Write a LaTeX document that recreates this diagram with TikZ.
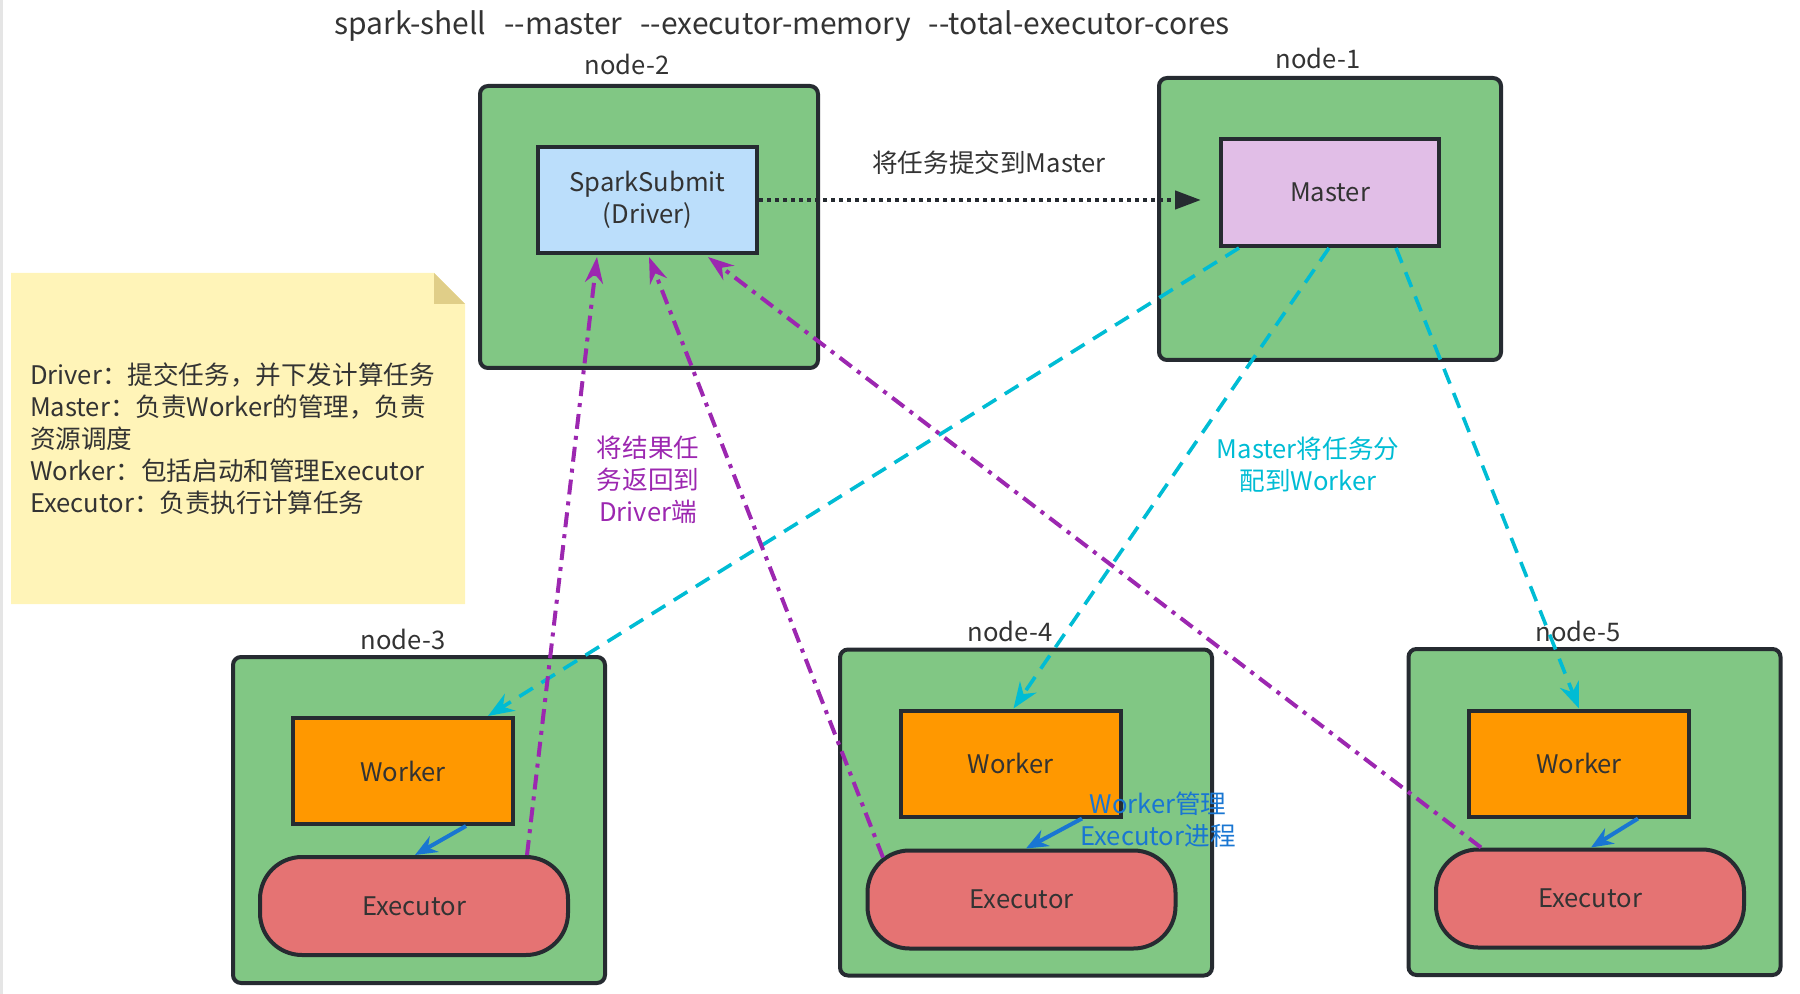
\documentclass[tikz,border=0pt]{standalone}
\usepackage{fontspec}
\setmainfont{Noto Sans CJK SC}
\usetikzlibrary{arrows.meta,calc}

\definecolor{hostgreen}{HTML}{81C784}
\definecolor{edgedark}{HTML}{262B31}
\definecolor{driverblue}{HTML}{BBDEFB}
\definecolor{masterlilac}{HTML}{E1BEE7}
\definecolor{workerorange}{HTML}{FF9800}
\definecolor{execred}{HTML}{E57373}
\definecolor{notefill}{HTML}{FFF4B8}
\definecolor{notefold}{HTML}{E0CE88}
\definecolor{txt}{HTML}{333333}
\definecolor{assigncyan}{HTML}{00BCD4}
\definecolor{resultpurple}{HTML}{9C27B0}
\definecolor{managerblue}{HTML}{1976D2}

\newcommand\dsh{-\kern0pt-}

\begin{document}
\begin{tikzpicture}[x=0.5pt,y=-0.5pt,
			every node/.style={font=\fontsize{12.8pt}{16pt}\selectfont,text=txt,align=center},
			host/.style={draw=edgedark,line width=2pt,fill=hostgreen,rounded corners=4pt,
				minimum width=186pt,minimum height=163pt},
			proc/.style={draw=edgedark,line width=2pt,minimum width=110pt,minimum height=53pt},
			executor/.style={draw=edgedark,line width=2pt,fill=execred,rounded corners=21pt,
				minimum width=154pt,minimum height=49pt},
			submit/.style={draw=edgedark,line width=2.2pt,dash pattern=on 2pt off 2pt,
				-{Triangle[length=13pt,width=9pt]}},
			assign/.style={draw=assigncyan,line width=1.8pt,dash pattern=on 8pt off 5pt,
				-{Stealth[length=13pt,width=10pt]}},
			result/.style={draw=resultpurple,line width=2pt,
				dash pattern=on 7.5pt off 3.5pt on 2pt off 3.5pt,
				-{Stealth[length=13pt,width=9pt]}},
			manage/.style={draw=managerblue,line width=2pt,-{Stealth[length=11pt,width=9pt]}}]

		\useasboundingbox (0,0) rectangle (1800,994);
		\fill[black!10] (0,0) rectangle (2.5,994);

		\node (title) at (782,26) {\fontsize{15pt}{16pt}\selectfont
			spark-shell\hspace{0.6em}\dsh master\hspace{0.6em}\dsh executor-memory\hspace{0.6em}\dsh total-executor-cores};

		\fill[notefill] (11,273) -- (434,273) -- (465,304) -- (465,604) -- (11,604) -- cycle;
		\fill[notefold] (434,273) -- (434,304) -- (465,304) -- cycle;
		\node [anchor=west,align=left] (notes) at (23,439) {Driver：提交任务，并下发计算任务\\
			Master：负责Worker的管理，负责\\资源调度\\Worker：包括启动和管理Executor\\
			Executor：负责执行计算任务};

		\node [host,minimum width=169pt,minimum height=141pt] (n2) at (649,227) {};
		\node [host,minimum width=171pt,minimum height=141pt] (n1) at (1330,219) {};
		\node [host] (n3) at (419,820) {};
		\node [host] (n4) at (1026,812.5) {};
		\node [host] (n5) at (1594.5,812) {};

		\node (l2) at (627,64) {node-2};
		\node (l1) at (1318,58) {node-1};
		\node (l3) at (403,639) {node-3};
		\node (l4) at (1010,631) {node-4};
		\node (l5) at (1578,631) {node-5};

		\node [proc,fill=driverblue,minimum width=109.5pt] (drv) at (647.5,200) {SparkSubmit\\(Driver)};
		\node [proc,fill=masterlilac,minimum width=109pt,minimum height=53.5pt] (mst) at (1330,192.5) {Master};
		\node [proc,fill=workerorange] (w3) at (403,771) {Worker};
		\node [proc,fill=workerorange] (w4) at (1010.5,763.5) {Worker};
		\node [proc,fill=workerorange] (w5) at (1579,763.5) {Worker};
		\node [executor] (e3) at (414,906) {Executor};
		\node [executor] (e4) at (1021.5,899.5) {Executor};
		\node [executor] (e5) at (1590,898.5) {Executor};

		\draw [submit] (drv.east) -- ($(drv.east -| mst.west)+(-18,0)$);
		\node (submitlbl) at (989,163) {将任务提交到Master};

		\draw [assign] ($(mst.south)+(-91,0)$) -- ($(w3.north)+(85,0)$);
		\draw [assign] ($(mst.south)+(-1,0)$) -- ($(w4.north)+(3,0)$);
		\draw [assign] ($(mst.south)+(66,0)$) -- (w5.north);
		\node [text=assigncyan] (assignlbl) at (1308,465) {Master将任务分\\配到Worker};

		\draw [result] ($(e3.north)+(113,0)$) -- ($(drv.south)+(-50.5,2)$);
		\draw [result] ($(e4.north)+(-138.5,9)$) -- ($(drv.south)+(1.5,2)$);
		\draw [result] ($(e5.north)+(-109,0)$) -- ($(drv.south)+(60.5,2)$);
		\node [text=resultpurple] (resultlbl) at (648,480) {将结果任\\务返回到\\Driver端};

		\draw [manage] ($(w3.south)+(63,0)$) -- ($(e3.north)+(1,0)$);
		\draw [manage] ($(w4.south)+(71.5,0)$) -- ($(e4.north)+(4.5,0)$);
		\draw [manage] ($(w5.south)+(59,0)$) -- ($(e5.north)+(1,0)$);
		\node [text=managerblue] (managelbl) at (1158,820) {Worker管理\\Executor进程};

		\end{tikzpicture}
\end{document}
